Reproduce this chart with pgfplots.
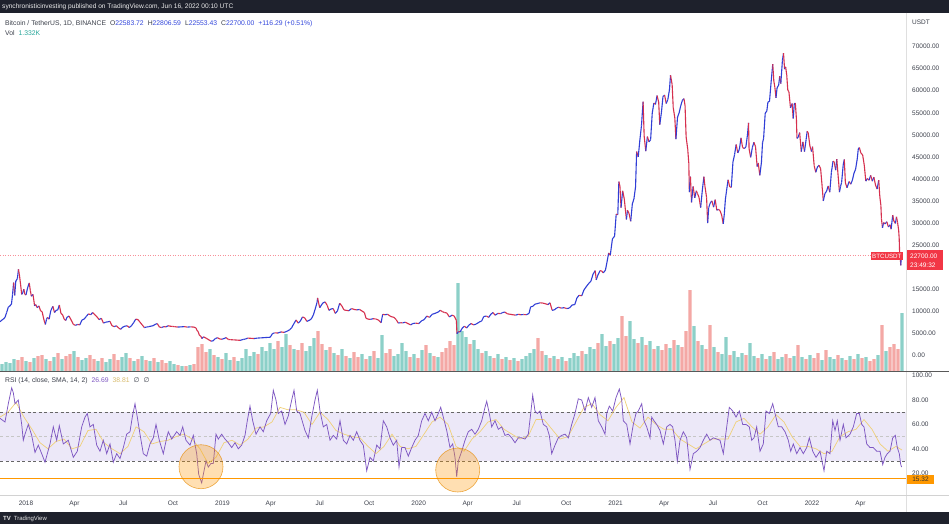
\documentclass[border=0pt]{standalone}
\usepackage{pgfplots}
\usepackage{pgfplotstable}
\pgfplotsset{compat=1.18}
\usepackage{fontspec}
\setmainfont{Liberation Sans}
\newfontfamily\dejavu{DejaVu Sans}
\definecolor{tvdark}{RGB}{30,33,44}
\definecolor{upc}{RGB}{48,62,214}
\definecolor{dnc}{RGB}{214,48,78}
\definecolor{volup}{RGB}{140,208,200}
\definecolor{voldn}{RGB}{244,168,165}
\definecolor{rsiline}{RGB}{126,87,194}
\definecolor{rsiband}{RGB}{236,232,248}
\definecolor{rsima}{RGB}{240,208,120}
\definecolor{orng}{RGB}{255,152,0}
\definecolor{labelgray}{RGB}{60,64,75}
\definecolor{legblue}{RGB}{50,70,220}
\definecolor{tvteal}{RGB}{38,166,154}
\definecolor{tvred}{RGB}{242,54,69}
\pgfplotsset{colormap={updown}{color=(dnc) color=(upc)}}

\pgfplotstableread{
d p c
-48 7600 1
-45 8000 1
-42 8200 1
-39 8600 1
-36 9700 1
-33 10900 1
-30 11200 1
-27 11600 1
-25 13800 1
-23 16500 0
-21 13600 1
-19 16800 1
-16 17400 1
-14 19500 0
-12 18000 0
-10 16000 0
-8 13800 1
-6 14200 1
-4 15000 0
-2 13800 0
0 13700 1
3 15300 1
6 16400 0
8 14700 0
10 13400 1
13 13800 0
16 11200 1
18 11500 0
21 10800 1
24 11200 0
27 10100 0
30 9900 0
33 8200 0
36 7000 1
38 8100 1
40 8600 0
43 8200 1
46 10100 1
50 11100 0
53 9700 1
56 10200 1
59 10300 1
62 11400 0
65 9500 0
68 9200 0
71 8200 0
74 7900 1
76 8600 1
80 8900 0
84 8000 0
88 7000 0
92 6800 1
96 7000 0
100 6900 1
104 8000 1
108 8200 1
112 8800 1
116 9400 0
120 9200 1
124 9700 0
128 9200 0
132 8700 0
136 8100 1
140 8400 0
144 7300 1
148 7500 1
152 7600 1
156 7700 0
160 6700 0
164 6500 1
168 6700 0
172 6200 0
176 5900 1
180 6400 1
184 6600 1
188 6700 0
192 6300 1
196 6700 1
200 7400 1
204 8200 0
208 8100 0
212 7500 0
216 6900 0
220 6300 1
224 6400 1
228 6500 1
232 6600 1
236 6700 1
240 7000 1
244 7200 0
248 6400 0
252 6300 1
256 6500 0
260 6450 1
264 6700 0
268 6600 0
272 6550 0
276 6500 0
282 6400 1
288 6450 1
294 6500 0
300 6400 1
306 6450 0
312 6400 0
316 6200 0
318 5600 0
320 5400 0
322 4600 0
325 4300 0
327 3800 1
330 4200 0
333 4000 0
336 3800 0
340 3500 0
344 3200 1
348 3300 1
352 3800 1
356 4000 0
360 3700 0
364 3650 1
368 3800 1
372 4000 0
376 3600 0
380 3550 0
386 3500 0
392 3450 0
398 3400 1
404 3600 1
408 3700 1
412 3900 0
418 3850 0
424 3800 1
430 3900 1
436 3950 1
442 4000 1
448 4050 1
454 4100 1
458 4900 1
462 5100 0
468 5050 1
474 5300 0
480 5200 1
486 5500 1
490 5800 1
494 6300 1
498 7200 1
502 8000 0
506 7300 1
510 7800 1
514 8700 0
518 8500 0
522 7700 1
526 7900 1
530 8200 1
534 9100 1
538 10700 1
541 12000 1
542 13000 0
544 11800 0
546 10800 1
548 11200 1
552 11900 1
556 12100 0
560 11300 0
563 10200 1
567 10500 1
571 10600 0
575 9500 1
579 10100 1
583 11800 0
587 11200 0
591 10300 0
595 10200 0
600 10100 1
605 10600 0
610 10400 0
615 10300 1
620 10400 0
625 10000 0
629 9700 0
632 8400 0
636 8200 0
640 8150 1
645 8300 0
650 8250 0
655 8000 0
660 7400 1
663 9300 0
667 9200 1
672 9300 0
678 8800 0
684 8600 0
688 8100 0
692 7300 1
696 7400 0
700 7350 1
705 7500 0
710 7200 0
715 6900 1
719 7200 1
724 7300 0
730 7200 1
735 7800 1
740 8100 1
745 8900 0
750 8600 1
755 9300 1
760 9500 1
766 9800 1
770 10200 0
774 9900 0
778 9700 0
782 9600 0
787 8700 1
792 9100 0
796 8900 0
800 7900 0
801 4900 1
804 5400 0
807 5300 1
811 6200 1
815 6600 0
819 6200 1
823 6800 1
827 7200 0
832 6900 1
837 7100 1
842 7500 1
847 7800 1
851 8800 1
856 8900 0
860 8600 1
864 9300 1
868 9700 0
872 9100 1
877 9500 0
882 9450 1
886 9700 1
890 9800 0
895 9400 0
900 9300 0
905 9200 0
910 9100 1
915 9300 0
920 9200 1
925 9250 0
930 9200 1
935 9500 1
938 11000 1
942 11100 1
946 11600 1
950 11700 1
955 11900 0
960 11850 0
965 11700 0
970 11500 1
974 11900 0
978 10200 1
982 10300 1
986 10700 1
990 10900 0
995 10700 1
1000 10800 0
1005 10600 1
1010 10700 1
1015 11400 1
1020 11500 1
1024 13000 1
1028 13600 0
1033 13500 1
1037 14800 1
1041 15500 1
1046 16300 1
1050 16800 1
1054 18400 1
1058 19200 0
1060 17100 1
1063 18200 1
1067 19200 0
1070 19100 0
1073 18700 1
1077 19300 1
1080 21200 1
1083 23200 0
1086 22700 1
1090 26400 1
1094 27000 1
1097 32000 0
1100 31900 1
1102 39400 0
1104 38300 0
1106 33500 1
1109 37300 0
1112 35500 0
1116 30800 1
1118 32900 0
1121 32100 0
1124 30400 1
1127 34300 1
1130 35500 1
1133 38200 1
1135 46200 0
1138 45000 1
1141 48800 1
1144 52100 1
1147 57500 0
1149 49700 0
1152 46300 1
1155 49600 0
1158 48400 1
1161 48900 1
1164 54900 1
1167 57200 0
1170 56900 1
1173 58900 0
1176 57400 0
1178 52300 1
1181 55000 1
1184 58700 1
1187 59000 0
1190 57100 1
1193 58000 1
1196 60200 1
1198 63500 0
1201 61400 0
1203 56200 0
1206 53800 0
1208 49000 1
1211 54000 1
1214 55000 1
1217 56600 1
1220 57800 1
1223 58200 0
1225 56600 0
1227 49500 0
1230 46700 0
1232 43500 0
1233 37000 1
1235 40500 0
1237 34700 1
1240 38300 0
1243 35700 1
1246 37300 0
1248 36700 0
1251 35800 0
1254 33500 1
1257 37300 1
1260 40500 0
1262 38300 0
1265 35800 0
1267 30000 1
1269 33500 1
1272 34600 1
1275 35000 0
1278 33600 1
1281 35300 0
1284 32900 1
1287 33100 0
1290 32800 0
1293 31800 0
1296 29800 1
1298 32100 1
1300 35400 1
1302 37200 1
1305 39800 0
1308 38200 0
1311 38100 1
1314 43800 1
1317 45500 1
1320 47800 0
1323 45900 1
1326 46700 1
1329 49300 0
1332 47100 0
1335 46900 1
1338 47200 1
1341 50000 1
1343 52700 0
1344 46800 0
1347 44900 1
1350 47100 1
1353 48300 0
1356 47300 0
1359 42800 1
1361 43600 0
1364 40800 1
1367 43800 1
1369 48200 1
1371 49200 1
1374 54900 1
1377 55400 1
1379 57400 1
1382 57600 1
1385 62000 1
1388 66000 0
1390 62200 0
1392 60700 0
1394 58400 1
1396 60600 1
1399 61300 1
1401 63300 0
1403 61600 1
1406 66900 1
1408 68500 0
1410 64900 1
1412 65400 0
1414 63500 0
1416 60100 0
1418 59800 0
1421 56100 1
1424 57100 0
1426 53700 1
1428 57000 1
1430 57200 0
1432 53600 0
1433 49200 1
1435 49400 1
1438 50500 0
1441 46200 1
1444 48400 0
1447 46200 1
1450 48900 1
1452 50800 0
1454 50400 0
1457 47500 0
1460 46200 1
1462 47300 0
1465 43000 0
1468 41500 1
1471 42700 1
1474 43100 0
1477 42300 0
1480 38000 0
1482 35000 1
1485 36700 1
1488 37200 1
1491 38400 0
1494 37000 1
1497 41500 1
1500 44000 0
1502 43900 0
1505 42000 1
1507 44500 0
1510 40000 0
1512 37000 1
1514 38300 1
1516 39200 1
1519 43200 1
1521 44400 0
1523 39100 0
1526 38000 1
1530 39400 0
1533 38800 1
1536 39700 1
1539 41300 1
1542 42200 1
1545 44500 1
1547 46800 1
1549 47100 0
1552 45800 0
1555 45500 0
1558 43200 0
1561 39500 1
1564 40100 0
1567 39700 1
1570 40800 0
1573 39500 1
1576 40400 0
1579 38600 0
1582 37700 1
1585 39700 0
1587 36000 0
1589 34000 0
1590 31000 0
1592 28900 1
1594 30100 0
1597 29800 1
1600 30300 0
1603 29100 1
1606 29600 0
1608 28600 1
1611 31800 0
1613 30500 0
1616 29900 1
1618 31400 0
1620 30100 0
1622 28400 0
1623 26600 0
1624 22500 0
1625 22100 0
1626 20400 1
1627 22700 1
}\pricetab

\pgfplotstableread{
x v c
2 7 1
6 9 1
10 8 1
14 12 1
18 11 0
22 14 0
26 10 1
30 9 0
34 13 1
38 15 0
42 16 0
46 12 1
50 10 0
54 14 1
58 18 0
62 12 1
66 15 0
70 17 0
74 20 1
78 14 0
82 11 1
86 13 1
90 16 0
94 12 0
98 10 1
102 13 0
106 9 1
110 12 1
114 17 0
118 11 0
122 14 1
126 18 1
130 13 0
134 10 1
138 12 0
142 15 1
146 11 0
150 10 1
154 13 0
158 9 1
162 11 0
166 8 0
170 10 1
174 7 1
178 6 0
182 5 1
186 5 0
190 6 1
194 7 0
198 24 0
202 27 0
206 19 0
210 22 1
214 16 0
218 14 1
222 12 0
226 18 1
230 11 1
234 14 0
238 10 1
242 13 1
246 22 1
250 15 1
254 19 1
258 17 0
262 24 1
266 20 1
270 28 1
274 22 1
278 30 0
282 24 1
286 37 1
290 26 0
294 22 1
298 21 0
302 28 0
306 20 1
310 25 1
314 33 1
318 40 0
322 27 0
326 21 1
330 24 0
334 18 1
338 16 0
342 22 1
346 15 0
350 13 1
354 19 0
358 14 0
362 17 1
366 12 0
370 15 1
374 20 0
378 13 1
382 36 1
386 18 0
390 22 0
394 15 1
398 17 1
402 28 1
406 20 1
410 14 0
414 17 1
418 13 0
422 21 1
426 26 0
430 18 1
434 15 0
438 14 1
442 19 0
446 23 0
450 30 0
454 26 0
458 88 1
462 40 1
466 34 1
470 27 0
474 31 1
478 22 1
482 18 0
486 20 1
490 15 1
494 13 0
498 17 1
502 12 0
506 14 1
510 11 0
514 13 1
518 10 0
522 12 1
526 15 1
530 18 1
534 22 1
538 33 0
542 20 0
546 16 1
550 13 0
554 15 1
558 12 0
562 14 1
566 10 0
570 13 1
574 18 1
578 15 1
582 20 0
586 17 1
590 24 1
594 22 1
598 28 0
602 37 1
606 25 1
610 30 0
614 27 1
618 33 1
622 55 0
626 35 0
630 50 1
634 32 1
638 28 0
642 34 1
646 26 0
650 30 1
654 22 0
658 25 1
662 21 0
666 27 0
670 23 1
674 31 0
678 26 1
682 24 0
686 40 0
690 81 0
694 45 1
698 30 0
702 26 1
706 22 0
710 46 0
714 24 1
718 19 0
722 17 1
726 34 1
730 16 0
734 20 1
738 14 1
742 18 1
746 16 0
750 28 1
754 15 1
758 13 0
762 17 1
766 12 0
770 15 1
774 19 0
778 12 1
782 14 1
786 17 0
790 13 0
794 15 1
798 26 0
802 14 1
806 12 0
810 16 1
814 13 0
818 18 0
822 11 1
826 21 0
830 14 1
834 12 1
838 16 0
842 13 1
846 11 0
850 15 1
854 12 0
858 17 1
862 13 0
866 14 1
870 10 0
874 12 0
878 16 1
882 46 0
886 20 1
890 24 0
894 27 0
898 22 0
902 58 1
}\voltab

\pgfplotstableread{
x r
0 65
3.3 63
5 62
8.3 77
11.7 90
13.3 86
15 77
18.3 80
21.7 60
23.3 47
25 52
28.3 60
31.7 51
35 37
38.3 43
41.7 36
45 29
50 44
53.3 58
56.7 47
59.3 59
63.3 44
68.3 47
73.3 33
77.3 38
81.7 58
85 66
87.3 69
90 58
93.3 60
96.7 43
100 38
103.3 47
106.7 36
110 44
113.3 29
116.7 36
120 32
123.3 41
126.7 52
130 54
132.3 66
135 77
137.3 66
140 52
143.3 36
146.7 34
150 44
153.3 49
156 60
159.3 47
163.3 36
166.7 49
168.3 54
171.7 48
176.7 54
180 51
182.7 58
186 47
190 43
193.3 51
196.7 36
198.7 19
201.7 12
203.3 19
206 30
208.3 25
211 28
213.3 28
216 52
218.3 48
221.7 52
225 48
228.3 45
231.7 41
235 45
238.3 40
241.7 43
245 51
247.3 63
250 75
252.7 63
256 52
260 58
263.3 54
266.7 63
270.7 69
273.3 88
276 80
278.3 69
281.7 71
285 60
288.3 67
291.7 80
294 88
296.7 71
300 69
305 55
308.3 49
311.7 66
315 80
317.3 88
320 71
323.3 58
326.7 60
330 47
333.3 51
336.7 48
340 63
343.3 47
346.7 44
350 51
353.3 47
356.7 54
360 47
363.3 43
366.7 22
370 33
373.3 30
376.7 43
380 40
383.3 63
386.7 58
390 49
393.3 43
396.7 47
399 25
401.7 41
405 41
408.3 34
411.7 41
415 47
418.3 51
421.7 63
425 69
428.3 63
431.7 70
435 63
438.3 69
440.7 74
443.3 66
446.7 55
450 41
452.7 44
455 33
456.7 17
458.3 30
461.7 38
465 47
468.3 54
471.7 56
475 52
478.3 56
481.7 63
485 74
486.7 79
489.3 69
491.7 58
495 63
498.3 56
501.7 58
505 51
508.3 52
511.7 49
515 45
518.3 49
521.7 49
525 48
528.3 52
530.7 69
532.7 84
535 71
537.3 69
540 71
543.3 60
546.7 58
549.3 51
551.7 36
555 43
558.3 49
561.7 51
565 52
568.3 49
571.7 60
575 69
578.3 81
581.7 80
585 71
588.3 82
591.7 74
595 82
598.3 63
601.7 58
605 52
606.7 69
609.3 75
612.7 71
616 82
619.3 89
621.7 80
623.3 63
626.7 60
630 44
633.3 60
636 69
638.3 71
641.7 77
644 63
646.7 58
650 49
651.7 66
654 63
656.7 60
660 55
663.3 44
666.7 58
670 60
672.7 58
675 47
677.3 30
680 47
683.3 54
686.7 49
690 23
693.3 36
696.7 38
700 41
703.3 47
706.7 52
710 47
713.3 49
716.7 48
720 47
723.3 36
726.7 58
729.3 74
732.7 71
736 66
739.3 71
742.7 60
746 60
749.3 58
751.7 47
754 49
756.7 58
760 38
763.3 44
766 71
769.3 69
772.7 77
775 69
778.3 58
781.7 58
785 54
788.3 47
790.7 38
793.3 44
796.7 36
800 41
803.3 36
806.7 41
809.3 49
812.7 38
816 33
820 38
824 22
826.7 38
830 36
832.7 63
835 55
837.3 63
840 47
843.3 60
846 49
850 52
853.3 58
856.7 69
859.3 69
861.7 60
864 58
866.7 44
870 41
873.3 41
876.7 38
880 38
882.7 27
885 33
887.3 36
890 38
892.7 49
895.3 51
897.3 41
899.3 36
900.7 27
901.7 25
}\rsitab

\pgfplotstableread{
x m
0 66
8 70
16 78
24 66
32 56
40 45
48 40
56 46
64 48
72 40
80 42
88 55
96 56
104 45
112 40
120 36
128 42
136 58
144 54
152 44
160 46
168 47
176 50
184 52
192 48
200 40
208 28
216 33
224 45
232 47
240 43
248 48
256 57
264 58
272 62
280 74
288 72
296 72
304 70
312 60
320 70
328 64
336 55
344 52
352 50
360 49
368 42
376 36
384 42
392 52
400 42
408 40
416 42
424 52
432 62
440 66
448 60
456 42
464 38
472 48
480 54
488 62
496 64
504 56
512 52
520 48
528 50
536 64
544 64
552 56
560 48
568 50
576 62
584 74
592 77
600 68
608 63
616 74
624 82
632 62
640 57
648 66
656 60
664 56
672 56
680 48
688 44
696 40
704 44
712 48
720 48
728 48
736 62
744 65
752 58
760 52
768 58
776 68
784 62
792 50
800 42
808 42
816 40
824 36
832 38
840 50
848 54
856 56
864 64
872 56
880 44
888 38
896 42
902 39
}\matab

\begin{document}
\begin{tikzpicture}[x=1pt,y=1pt]
\fill[white] (0,0) rectangle (949,-524);
\fill[tvdark] (0,0) rectangle (949,-13);

\pgfplotsset{pane/.style={scale only axis, width=906pt, anchor=south west,
  axis line style={draw=none}, major tick length=0pt, xtick=\empty, ytick=\empty}}

% volume
\begin{axis}[pane, at={(0pt,-371pt)}, height=358pt, xmin=0, xmax=906, ymin=0, ymax=358,
  ybar, bar width=3.1, bar shift=0pt, unbounded coords=discard]
\addplot[fill=volup, draw=none, restrict expr to domain={\thisrow{c}}{0.5:1.5}] table[x=x,y=v] {\voltab};
\addplot[fill=voldn, draw=none, restrict expr to domain={\thisrow{c}}{-0.5:0.5}] table[x=x,y=v] {\voltab};
\end{axis}

% price
\begin{axis}[pane, at={(0pt,-371pt)}, height=358pt, xmin=-48.33, xmax=1635.7,
  ymin=-3560, ymax=77620,
  point meta min=0, point meta max=1, colormap name=updown]
\addplot[tvred!55, dotted, line width=0.5pt] coordinates {(-48.33,22700) (1569,22700)};
\addplot[mesh, shader=flat corner, point meta=explicit, line width=1.1pt] table[x=d, y=p, meta=c] {\pricetab};
\end{axis}

% RSI
\begin{axis}[pane, at={(0pt,-495pt)}, height=123pt, xmin=0, xmax=906, ymin=2.1, ymax=103]
\addplot[draw=none, fill=rsiband] coordinates {(0,30) (906,30) (906,70) (0,70) (0,30)};
\addplot[gray!80!black, dash pattern=on 3pt off 2.5pt, line width=0.5pt] coordinates {(0,70) (906,70)};
\addplot[gray!80!black, dash pattern=on 3pt off 2.5pt, line width=0.5pt] coordinates {(0,30) (906,30)};
\addplot[gray!45, dash pattern=on 3pt off 2.5pt, line width=0.5pt] coordinates {(0,50) (906,50)};
\addplot[rsima, line width=0.7pt] table[x=x, y=m] {\matab};
\addplot[rsiline, line width=0.75pt] table[x=x, y=r] {\rsitab};
\addplot[orng, line width=1pt] coordinates {(0,15.32) (906,15.32)};
\addplot[only marks, mark=*, mark size=22pt, mark options={fill=orng, fill opacity=0.3, draw=orng!90!black, draw opacity=0.7, line width=0.6pt}] coordinates {(201,25.3) (457.7,22.6)};
\end{axis}

% separators
\draw[gray!25, line width=0.6pt] (906.5,-13) -- (906.5,-512);
\draw[black!65, line width=1.3pt] (0,-371.5) -- (949,-371.5);
\draw[gray!35, line width=0.7pt] (0,-495) -- (949,-495);
\fill[tvdark] (0,-512) rectangle (949,-524);

% price scale labels
\foreach \v/\yy in {70000.00/46.6,65000.00/68.6,60000.00/90.7,55000.00/112.8,50000.00/134.8,45000.00/156.9,40000.00/178.9,35000.00/201.0,30000.00/223.0,25000.00/245.05,15000.00/289.15,10000.00/311.2,5000.00/333.25,0.00/355.3}
  \node[anchor=west, inner sep=0, text=labelgray, font=\fontsize{6.5}{7}\selectfont] at (912,-\yy) {\v};
% RSI scale labels
\foreach \v/\yy in {100.00/375.7,80.00/400.1,60.00/424.5,40.00/448.9,20.00/473.3}
  \node[anchor=west, inner sep=0, text=labelgray, font=\fontsize{6.5}{7}\selectfont] at (912,-\yy) {\v};
% time labels
\foreach \xx/\t in {26/2018,74.4/Apr,123.4/Jul,172.9/Oct,222.4/2019,270.8/Apr,319.7/Jul,369.2/Oct,418.7/2020,467.7/Apr,516.7/Jul,566.2/Oct,615.6/2021,664.1/Apr,713.0/Jul,762.5/Oct,812.0/2022,860.4/Apr}
  \node[inner sep=0, text=labelgray, font=\fontsize{6.5}{7}\selectfont] at (\xx,-503.5) {\t};

% texts
\node[anchor=west, inner sep=0, text=white!85!gray, font=\fontsize{6.6}{7}\selectfont] at (2,-6.5) {synchronisticinvesting published on TradingView.com, Jun 16, 2022 00:10 UTC};
\node[anchor=west, inner sep=0, text=labelgray, font=\fontsize{6.8}{8}\selectfont] at (5,-24) {Bitcoin / TetherUS, 1D, BINANCE\hspace{4pt}O\textcolor{legblue}{22583.72}\hspace{4pt}H\textcolor{legblue}{22806.59}\hspace{4pt}L\textcolor{legblue}{22553.43}\hspace{4pt}C\textcolor{legblue}{22700.00}\hspace{4pt}\textcolor{legblue}{+116.29 (+0.51\%)}};
\node[anchor=west, inner sep=0, text=labelgray, font=\fontsize{6.8}{8}\selectfont] at (5,-33.5) {Vol\hspace{4pt}\textcolor{tvteal}{1.332K}};
\node[anchor=west, inner sep=0, text=labelgray, font=\fontsize{6.8}{8}\selectfont] at (5,-381) {RSI (14, close, SMA, 14, 2)\hspace{4pt}\textcolor{rsiline}{26.69}\hspace{4pt}\textcolor{rsima!90!black}{38.81}\hspace{4pt}{\dejavu ∅\hspace{4pt}∅}};
\node[anchor=west, inner sep=0, text=labelgray, font=\fontsize{6.5}{7}\selectfont] at (912,-22.7) {USDT};
% price labels
\node[fill=tvred, text=white, inner sep=1.4pt, anchor=east, font=\fontsize{6.2}{7}\selectfont] at (903,-256) {BTCUSDT};
\fill[tvred] (907,-250) rectangle (943,-270);
\node[text=white, inner sep=0, anchor=west, font=\fontsize{6.5}{7}\selectfont] at (910,-256) {22700.00};
\node[text=white, inner sep=0, anchor=west, font=\fontsize{6.5}{7}\selectfont] at (910,-265) {23:49:32};
\fill[orng] (907,-475) rectangle (934,-484);
\node[text=black!80, inner sep=0, font=\fontsize{6.5}{7}\selectfont] at (920.5,-479.5) {15.32};
\node[anchor=west, inner sep=0, text=white!80!gray, font=\fontsize{6}{7}\selectfont] at (3,-518.5) {\textbf{TV}\hspace{3pt}TradingView};
\pgfresetboundingbox
\useasboundingbox (0,0) rectangle (949,-524);
\end{tikzpicture}
\end{document}
